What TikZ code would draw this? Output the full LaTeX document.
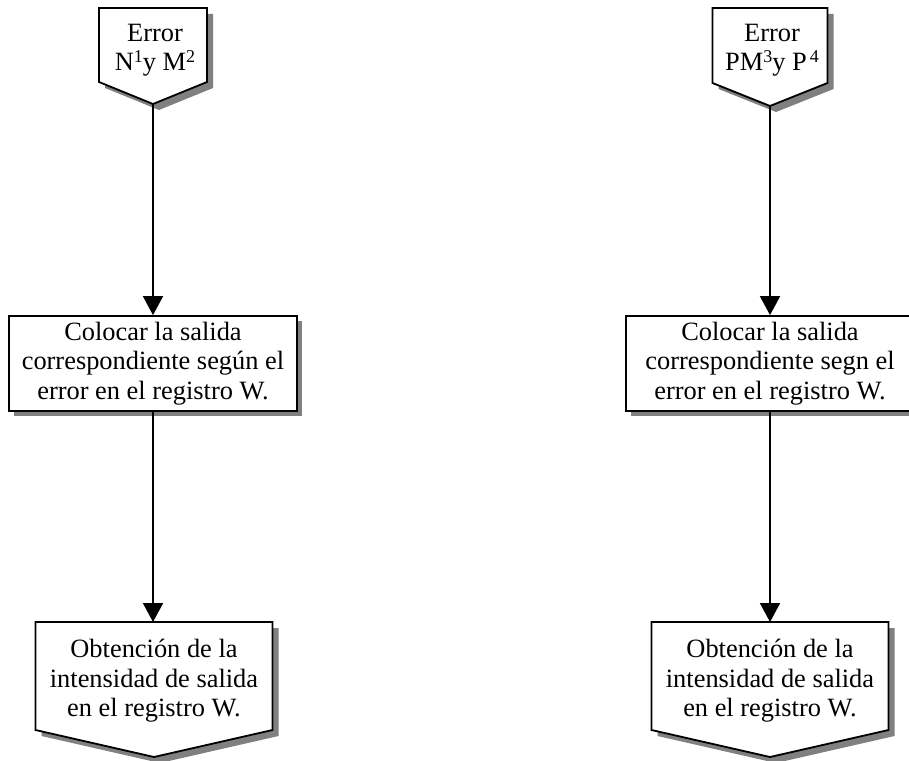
\documentclass[tikz,border=0pt]{standalone}
\usepackage{fontspec}
\setmainfont{Liberation Serif}
\usetikzlibrary{arrows.meta,shadows}

% raised index digit
\newcommand{\idx}[1]{\raisebox{8pt}{\fontsize{18}{18}\selectfont #1}}

% off-page connector: centre x, top y, half width, side bottom y, tip y
\newcommand{\offpage}[5]{%
  \fill[shadowfill] ({#1-#3+6},{#2+6}) -- ({#1+#3+6},{#2+6}) -- ({#1+#3+6},{#4+6})
        -- ({#1+6},{#5+6}) -- ({#1-#3+6},{#4+6}) -- cycle;
  \draw[outline] ({#1-#3},{#2}) -- ({#1+#3},{#2}) -- ({#1+#3},{#4})
        -- ({#1},{#5}) -- ({#1-#3},{#4}) -- cycle;
}

\tikzset{
  outline/.style={draw=black, line width=1.8pt, fill=white, line join=miter},
  shadowfill/.style={fill=black!50},
  txt/.style={align=center, inner sep=0pt, font=\fontsize{26.4}{29.5}\selectfont},
  procbox/.style={txt, draw=black, line width=1.8pt, fill=white,
    minimum width=288pt, minimum height=95pt,
    drop shadow={shadow xshift=5pt, shadow yshift=-5pt, fill=black!50, opacity=1}},
  flow/.style={line width=1.8pt, -{Triangle[width=20pt,length=19pt]}},
}

\begin{document}
\begin{tikzpicture}[x=1pt, y=-1pt]
  \useasboundingbox[fill=white] (0,0) rectangle (909,760);

  % ---- left column ----
  \offpage{153}{8}{54}{82}{104}
  \coordinate (ltip) at (153,104);
  \node[txt] (lerr) at (155,50) {Error\\N\idx{1}y M\idx{2}};

  \node[procbox] (lbox) at (153,363.5)
    {Colocar la salida\\correspondiente según el\\error en el registro W.};

  \offpage{154}{622}{118.5}{730}{757}
  \coordinate (lout) at (153,622);
  \node[txt] (lres) at (154,681)
    {Obtención de la\\intensidad de salida\\en el registro W.};

  \draw[flow] (ltip) -- (lbox.north);
  \draw[flow] (lbox.south) -- (lout);

  % ---- right column ----
  \offpage{770}{8}{57.5}{83}{106}
  \coordinate (rtip) at (770,106);
  \node[txt] (rerr) at (772,50) {Error\\PM\idx{3}y P\kern3pt\idx{4}};

  \node[procbox] (rbox) at (770,363.5)
    {Colocar la salida\\correspondiente segn el\\error en el registro W.};

  \offpage{770}{622}{118.5}{730}{757}
  \coordinate (rout) at (770,622);
  \node[txt] (rres) at (770,681)
    {Obtención de la\\intensidad de salida\\en el registro W.};

  \draw[flow] (rtip) -- (rbox.north);
  \draw[flow] (rbox.south) -- (rout);
\end{tikzpicture}
\end{document}
